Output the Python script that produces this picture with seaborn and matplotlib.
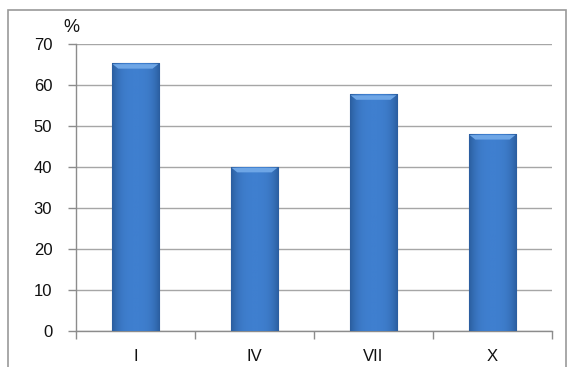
import numpy as np
import pandas as pd
import seaborn as sns
import matplotlib.pyplot as plt
from matplotlib.patches import Rectangle, Polygon
from matplotlib.colors import LinearSegmentedColormap

# Data
categories = ["I", "IV", "VII", "X"]
values = [65.3, 40.0, 57.7, 48.0]
yticks = [0, 10, 20, 30, 40, 50, 60, 70]

df = pd.DataFrame({"month": categories, "pct": values})

sns.set_theme(style="white")
plt.rcParams['font.family'] = ['Liberation Sans', 'DejaVu Sans']

fig = plt.figure(figsize=(5.75, 3.67), dpi=100)
ax = fig.add_axes([0.132, 0.098, 0.828, 0.782])

sns.barplot(data=df, x="month", y="pct", color="#3a77c6", width=0.4,
            saturation=1, ax=ax, zorder=3)

# soft gradient on the bars (a bit darker at the edges)
grad = np.abs(np.linspace(-1, 1, 64))[None, :] ** 3
cmap = LinearSegmentedColormap.from_list("bar", ["#3f7fcf", "#2b5e9f"])
for p in ax.patches:
    x0, y0 = p.get_x(), p.get_y()
    w, h = p.get_width(), p.get_height()
    p.set_edgecolor("#2a5689")
    p.set_linewidth(0.8)
    im = ax.imshow(grad, cmap=cmap, aspect="auto", extent=[x0, x0 + w, y0, y0 + h],
                   zorder=3.5, interpolation="bilinear")
    im.set_clip_path(p)
    # light bevel on top (trapezoid)
    top = y0 + h
    bevel = Polygon([(x0 + w * 0.02, top - 0.2), (x0 + w * 0.98, top - 0.2),
                     (x0 + w * 0.86, top - 1.3), (x0 + w * 0.14, top - 1.3)],
                    closed=True, facecolor="#6ea6e6", edgecolor="none", zorder=4)
    ax.add_patch(bevel)

ax.set_xlim(-0.5, len(categories) - 0.5)
ax.set_ylim(0, 70)
ax.set_yticks(yticks)
ax.set_xlabel("")
ax.set_ylabel("")

ax.yaxis.grid(True, color="#a6a6a6", linewidth=1.0, zorder=0)
ax.set_axisbelow(True)
for s in ["top", "right"]:
    ax.spines[s].set_visible(False)
for s in ["left", "bottom"]:
    ax.spines[s].set_color("#8c8c8c")
    ax.spines[s].set_linewidth(1.0)

ax.tick_params(axis="y", which="major", left=True, length=6, width=1,
               color="#8c8c8c", pad=11, labelsize=12, labelcolor="#111111")
ax.tick_params(axis="x", which="major", bottom=False, length=0, pad=13,
               labelsize=12, labelcolor="#111111")
ax.set_xticks(np.arange(-0.5, len(categories)), minor=True)
ax.tick_params(axis="x", which="minor", bottom=True, length=6, width=1,
               color="#8c8c8c")

fig.text(0.125, 0.925, "%", fontsize=13, ha="center", va="center", color="#111111")

# outer chart border
fig.patches.append(Rectangle((0.014, -0.05), 0.97, 1.023, transform=fig.transFigure,
                             facecolor="none", edgecolor="#9a9a9a", linewidth=1.2))

fig.savefig("out.png", dpi=100)
